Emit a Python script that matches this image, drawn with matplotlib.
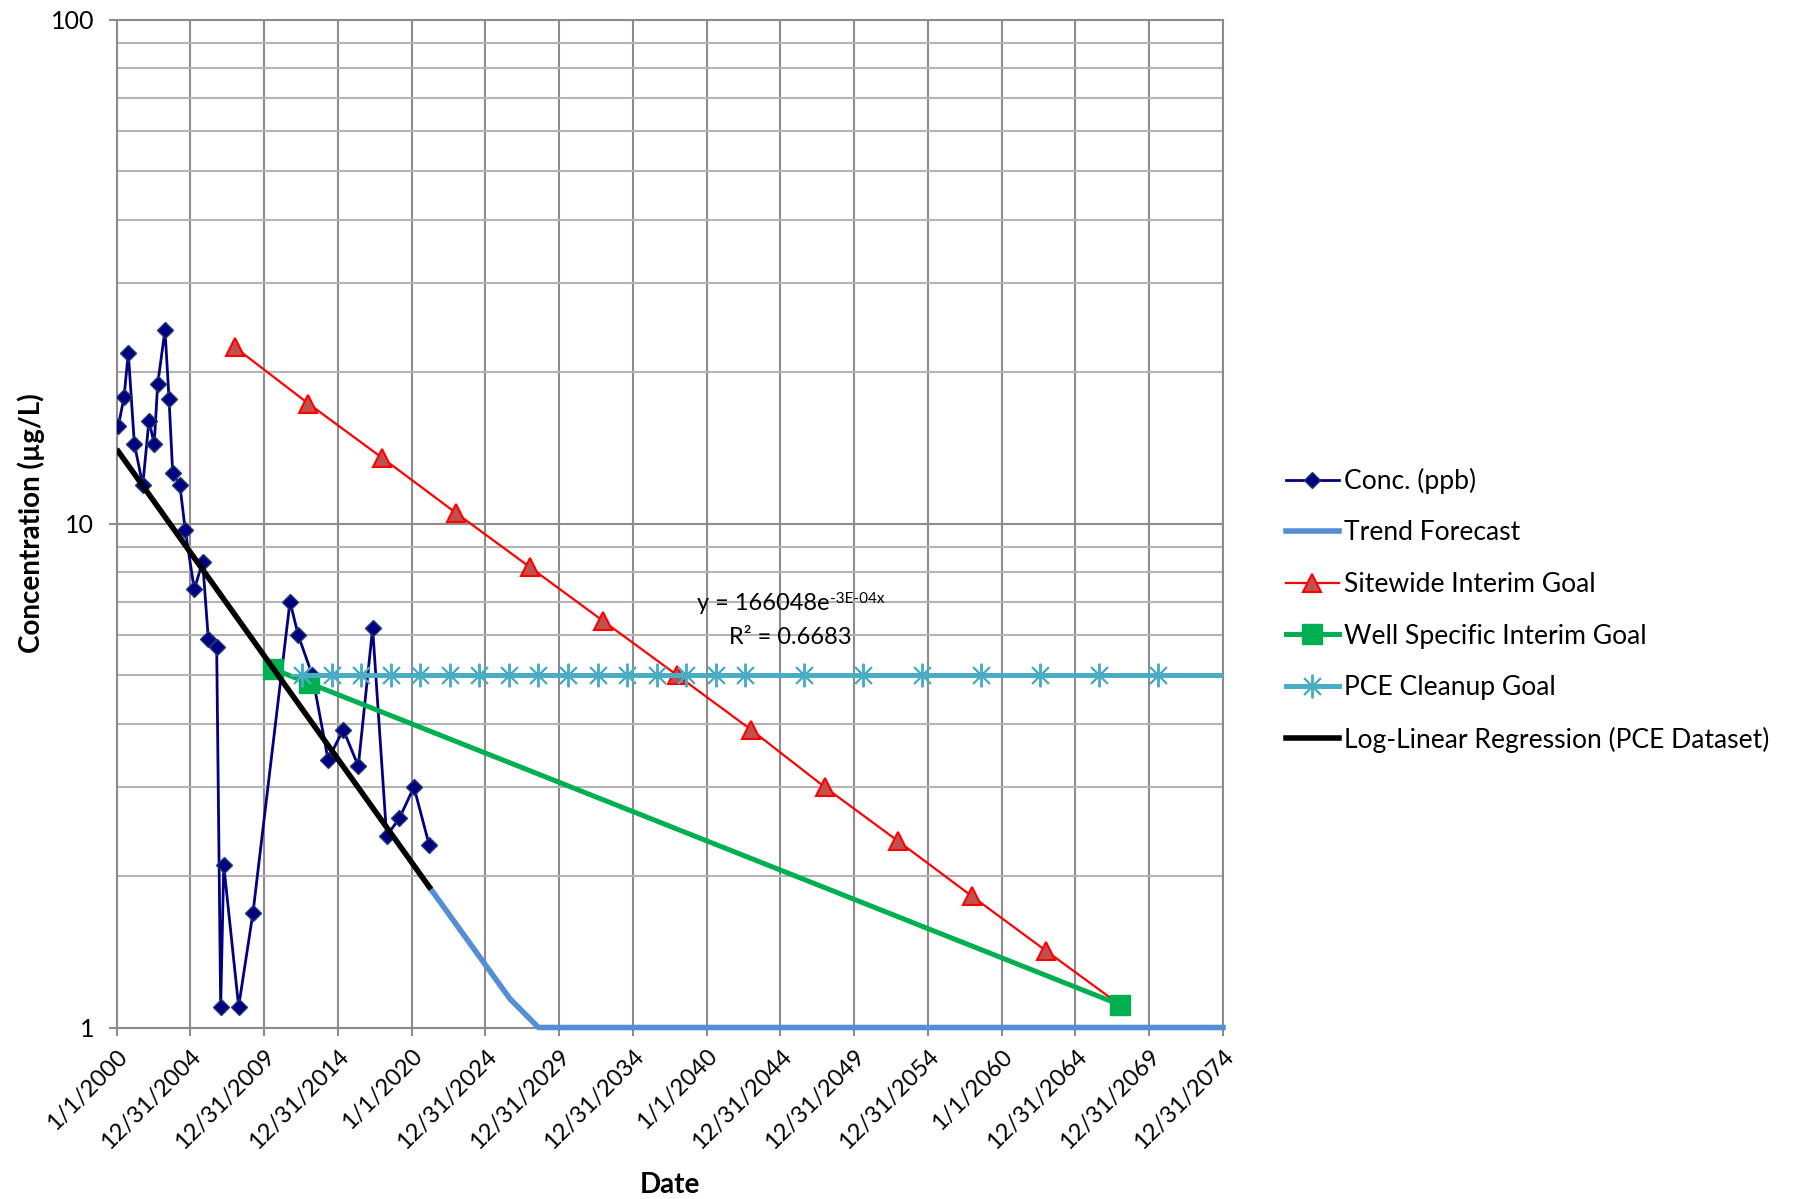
import matplotlib
matplotlib.use('Agg')
import matplotlib.pyplot as plt
import matplotlib.dates as mdates
import pandas as pd
from matplotlib.ticker import FixedLocator, LogLocator, NullFormatter

plt.rcParams['font.family'] = ['Lato', 'DejaVu Sans']

# measured PCE concentrations
conc_dates = ['2000-02-14', '2000-07-05', '2000-10-19', '2001-03-18', '2001-10-12',
              '2002-03-14', '2002-07-23', '2002-10-16', '2003-04-16', '2003-07-24',
              '2003-10-23', '2004-04-19', '2004-08-29', '2005-04-09', '2005-11-03',
              '2006-03-23', '2006-10-16', '2007-01-23', '2007-04-09', '2008-04-12',
              '2009-04-02', '2011-10-05', '2012-04-27', '2013-04-09', '2014-05-05',
              '2015-05-16', '2016-05-22', '2017-05-12', '2018-04-23', '2019-03-04',
              '2020-02-28', '2021-03-14']
conc_vals = [15.6, 17.8, 21.8, 14.4, 11.9, 16.0, 14.4, 18.9, 24.2, 17.7,
             12.6, 11.9, 9.7, 7.4, 8.4, 5.9, 5.7, 1.1, 2.1, 1.1,
             1.69, 7.0, 6.0, 5.0, 3.4, 3.9, 3.3, 6.2, 2.4, 2.6,
             3.0, 2.3]

# log-linear regression over the data range
reg_dates = ['2000-02-14', '2021-03-14']
reg_vals = [13.9, 1.90]

# forecast continuing the regression down to 1 ug/L
trend_dates = ['2021-03-14', '2026-09-01', '2028-08-07', '2074-12-31']
trend_vals = [1.90, 1.14, 1.0, 1.0]

sitewide_dates = ['2008-01-01', '2013-01-01', '2018-01-01', '2023-01-01', '2028-01-01',
                  '2033-01-01', '2038-01-01', '2043-01-01', '2048-01-01', '2053-01-01',
                  '2058-01-01', '2063-01-01', '2068-01-01']
sitewide_vals = [22.4, 17.3, 13.5, 10.5, 8.2, 6.4, 5.0, 3.9, 3.0, 2.34, 1.82, 1.42, 1.11]

well_dates = ['2010-08-17', '2013-01-25', '2068-01-01']
well_vals = [5.14, 4.82, 1.11]

pce_dates = ['2012-08-08', '2014-08-08', '2016-08-08', '2018-08-08', '2020-08-08',
             '2022-08-08', '2024-08-08', '2026-08-08', '2028-08-08', '2030-08-08',
             '2032-08-08', '2034-08-08', '2036-08-08', '2038-08-08', '2040-08-08',
             '2042-08-08', '2046-08-08', '2050-08-08', '2054-08-08', '2058-08-08',
             '2062-08-08', '2066-08-08', '2070-08-08', '2078-08-08']
pce_vals = [5] * len(pce_dates)

xtick_labels = ['1/1/2000', '12/31/2004', '12/31/2009', '12/31/2014', '1/1/2020',
                '12/31/2024', '12/31/2029', '12/31/2034', '1/1/2040', '12/31/2044',
                '12/31/2049', '12/31/2054', '1/1/2060', '12/31/2064', '12/31/2069',
                '12/31/2074']
ytick_vals = [1, 10, 100]

d = lambda s: pd.to_datetime(s)
xticks = pd.to_datetime(xtick_labels, format='%m/%d/%Y')

fig = plt.figure(figsize=(17.93, 11.99), dpi=100)
ax = fig.add_axes([116.5 / 1793, 1 - 1027.5 / 1199, 1106.5 / 1793, 1008 / 1199])

grid_dark = '#8c8c8c'
grid_light = '#b4b4b4'

ax.plot(d(conc_dates), conc_vals, color='#000080', lw=2, marker='D', ms=8,
        mfc='#000080', mec='#1f3a6e', mew=1, zorder=3, label='Conc. (ppb)')
ax.plot(d(trend_dates), trend_vals, color='#558ed5', lw=4, zorder=3,
        clip_on=False, label='Trend Forecast')
ax.plot(d(sitewide_dates), sitewide_vals, color='#ff0000', lw=1.6, marker='^', ms=13,
        mfc='#c0504d', mec='#ff0000', mew=1.5, zorder=4, label='Sitewide Interim Goal')
ax.plot(d(well_dates), well_vals, color='#00b050', lw=3.6, marker='s', ms=14,
        mfc='#00b050', mec='#00b050', zorder=5, label='Well Specific Interim Goal')
ax.plot(d(pce_dates), pce_vals, color='#4bacc6', lw=3.6, marker=(8, 2, 0), ms=17,
        mec='#4bacc6', mew=1.4, zorder=6, label='PCE Cleanup Goal')
ax.plot(d(reg_dates), reg_vals, color='black', lw=4, zorder=7,
        label='Log-Linear Regression (PCE Dataset)')

ax.set_yscale('log')
ax.set_ylim(1, 100)
ax.set_xlim(xticks[0], xticks[-1])

ax.xaxis.set_major_locator(FixedLocator(mdates.date2num(xticks)))
ax.set_xticklabels(xtick_labels, rotation=45, ha='right', va='top',
                   rotation_mode='anchor', fontsize=17)
ax.set_yticks(ytick_vals)
ax.set_yticklabels([str(v) for v in ytick_vals], fontsize=18)
ax.yaxis.set_minor_locator(LogLocator(base=10, subs=range(2, 10)))
ax.yaxis.set_minor_formatter(NullFormatter())

ax.tick_params(which='major', direction='out', length=6, width=1.5, color=grid_dark)
ax.tick_params(axis='x', pad=7)
ax.tick_params(axis='y', pad=10)
ax.tick_params(which='minor', length=0)

ax.set_axisbelow(True)
ax.grid(which='major', color=grid_dark, lw=1.5)
ax.grid(which='minor', axis='y', color=grid_light, lw=1.5)
for sp in ax.spines.values():
    sp.set_color(grid_dark)
    sp.set_linewidth(1.5)

ax.set_ylabel('Concentration (µg/L)', fontsize=20, fontweight='bold', va='center')
ax.yaxis.set_label_coords(-0.0770, 0.5)
ax.set_xlabel('Date', fontsize=20, fontweight='bold', va='center')
ax.xaxis.set_label_coords(0.5, -0.156)

# trendline equation with a plain-text exponent
eq = ax.text(0.644, 0.4204, 'y = 166048e', transform=ax.transAxes,
             ha='right', va='center', fontsize=17)
ax.annotate('-3E-04x', xy=(1, 1), xycoords=eq, xytext=(1, 1),
            textcoords='offset points', ha='left', va='top', fontsize=11)
ax.text(0.609, 0.3874, 'R² = 0.6683', transform=ax.transAxes,
        ha='center', va='center', fontsize=17)

handles, labels = ax.get_legend_handles_labels()
fig.legend(handles, labels, loc='center left', bbox_to_anchor=(0.717, 0.491),
           frameon=False, fontsize=19.1, handlelength=2.0, handletextpad=0.22,
           labelspacing=1.0, borderpad=0, borderaxespad=0)

fig.savefig('out.png', dpi=100)
